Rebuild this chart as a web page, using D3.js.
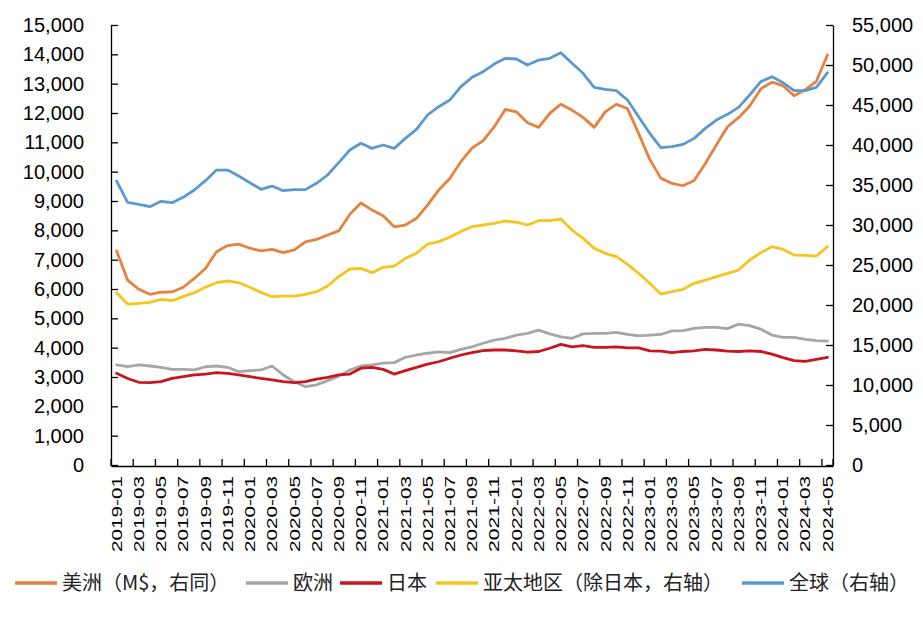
<!DOCTYPE html>
<html>
<head>
<meta charset="utf-8">
<script src="https://cdn.jsdelivr.net/npm/d3@7"></script>
<style>
  html, body { margin: 0; padding: 0; background: #fff; }
  svg { display: block; }
</style>
</head>
<body>
<svg id="chart" width="923" height="621"></svg>
<script>
// ---------- data ----------
const months = [
  "2019-01","2019-02","2019-03","2019-04","2019-05","2019-06","2019-07","2019-08","2019-09","2019-10","2019-11","2019-12",
  "2020-01","2020-02","2020-03","2020-04","2020-05","2020-06","2020-07","2020-08","2020-09","2020-10","2020-11","2020-12",
  "2021-01","2021-02","2021-03","2021-04","2021-05","2021-06","2021-07","2021-08","2021-09","2021-10","2021-11","2021-12",
  "2022-01","2022-02","2022-03","2022-04","2022-05","2022-06","2022-07","2022-08","2022-09","2022-10","2022-11","2022-12",
  "2023-01","2023-02","2023-03","2023-04","2023-05","2023-06","2023-07","2023-08","2023-09","2023-10","2023-11","2023-12",
  "2024-01","2024-02","2024-03","2024-04","2024-05"
];
const americas = [7300,6300,5990,5820,5890,5900,6060,6360,6700,7270,7480,7530,7390,7300,7350,7240,7330,7610,7690,7840,7980,8550,8930,8690,8500,8120,8180,8410,8860,9370,9770,10340,10800,11060,11530,12120,12040,11670,11510,11990,12300,12100,11850,11510,12040,12300,12150,11300,10420,9780,9600,9520,9700,10280,10910,11530,11840,12240,12820,13050,12930,12590,12790,13080,13980];
const europe = [3410,3350,3410,3375,3330,3260,3260,3240,3350,3375,3330,3180,3215,3240,3375,3070,2840,2670,2730,2875,3030,3240,3375,3410,3470,3490,3670,3750,3810,3860,3830,3940,4030,4150,4260,4320,4430,4490,4600,4470,4370,4320,4470,4490,4490,4520,4450,4400,4430,4450,4570,4580,4660,4690,4690,4650,4800,4750,4630,4430,4350,4350,4280,4240,4220];
const japan = [3125,2950,2820,2810,2840,2950,3010,3070,3100,3150,3125,3070,3010,2950,2900,2840,2810,2840,2930,2990,3070,3100,3300,3330,3260,3100,3215,3330,3440,3520,3640,3750,3830,3900,3920,3920,3890,3850,3870,3980,4110,4030,4070,4010,4010,4030,3990,3990,3890,3880,3830,3870,3890,3940,3920,3880,3870,3890,3870,3780,3660,3560,3530,3600,3670];
const asiaPacific = [21540,20120,20210,20330,20710,20540,21040,21540,22210,22790,23000,22790,22210,21580,21040,21120,21120,21330,21670,22370,23540,24500,24580,24040,24710,24870,25830,26460,27620,27920,28460,29200,29790,30000,30210,30500,30370,30000,30540,30540,30750,29370,28330,27080,26460,26040,25080,23960,22710,21370,21670,21960,22710,23120,23540,23960,24370,25620,26540,27290,26960,26250,26210,26120,27290];
const world = [35500,32830,32580,32290,32960,32790,33460,34370,35540,36870,36870,36120,35290,34460,34870,34290,34420,34420,35210,36250,37790,39370,40210,39580,40000,39580,40830,41960,43750,44790,45620,47290,48460,49170,50120,50830,50750,50000,50620,50830,51540,50210,48960,47210,46960,46790,45620,43540,41460,39670,39790,40080,40830,42080,43120,43830,44710,46250,47920,48540,47790,46790,46790,47210,49040];

const leftTicks = [0,1000,2000,3000,4000,5000,6000,7000,8000,9000,10000,11000,12000,13000,14000,15000];
const rightTicks = [0,5000,10000,15000,20000,25000,30000,35000,40000,45000,50000,55000];
const xTickLabels = months.filter((m, i) => i % 2 === 0);

const seriesNames = ["美洲（M$，右同）", "欧洲", "日本", "亚太地区（除日本，右轴）", "全球（右轴）"];
const seriesColors = ["#E5823F", "#A6A6A6", "#C8161D", "#F5C51F", "#5B99CE"];
const seriesValues = [americas, europe, japan, asiaPacific, world];
const seriesAxis = ["left", "left", "left", "right", "right"];

// ---------- layout ----------
const svg = d3.select("#chart");
const L = 111, R = 833, T = 25, B = 465;
const numFont = "'Liberation Sans', Arial, sans-serif";
const cjkFont = "'Noto Sans CJK SC', 'Noto Sans', sans-serif";

const x = d3.scaleBand().domain(months).range([L, R]).paddingInner(0).paddingOuter(0);
const cx = m => x(m) + x.bandwidth() / 2;
const yL = d3.scaleLinear().domain([0, 15000]).range([B, T]);
const yR = d3.scaleLinear().domain([0, 55000]).range([B, T]);

// Left axis
const gL = svg.append("g").attr("transform", `translate(${L},0)`)
  .call(d3.axisLeft(yL).tickValues(leftTicks).tickFormat(d3.format(",")).tickSize(-7).tickPadding(27).tickSizeOuter(0));
// Right axis
const gR = svg.append("g").attr("transform", `translate(${R},0)`)
  .call(d3.axisRight(yR).tickValues(rightTicks).tickFormat(d3.format(",")).tickSize(-7).tickPadding(19).tickSizeOuter(0));
[gL, gR].forEach(g => {
  g.select(".domain").attr("stroke", "#000").attr("stroke-width", 1.3);
  g.selectAll(".tick line").attr("stroke", "#000").attr("stroke-width", 1.3);
  g.selectAll(".tick text").attr("font-family", numFont).attr("font-size", 20).attr("fill", "#000");
});

// Bottom axis
const gX = svg.append("g").attr("transform", `translate(0,${B + 1})`)
  .call(d3.axisBottom(x).tickValues(xTickLabels).tickSize(0).tickPadding(0).tickSizeOuter(0));
gX.select(".domain").attr("stroke", "#000").attr("stroke-width", 1.3);
gX.selectAll(".tick line").remove();
// tick marks at category boundaries, every two months, pointing up
const boundaryIdx = d3.range(0, months.length + 1, 2).concat([months.length]);
gX.selectAll(".bt").data(Array.from(new Set(boundaryIdx))).enter().append("line")
  .attr("x1", i => L + i * x.step()).attr("x2", i => L + i * x.step())
  .attr("y1", 0).attr("y2", -7).attr("stroke", "#000").attr("stroke-width", 1.3);
gX.selectAll(".tick text")
  .attr("font-family", numFont)
  .attr("font-size", 14.5)
  .attr("fill", "#000")
  .attr("text-anchor", "end")
  .attr("transform", "rotate(-90)")
  .attr("x", -10)
  .attr("y", 0)
  .attr("dy", "0.36em")
  .attr("textLength", 76)
  .attr("lengthAdjust", "spacingAndGlyphs");

// Lines
const plot = svg.append("g");
seriesValues.forEach((vals, s) => {
  const yS = seriesAxis[s] === "left" ? yL : yR;
  const line = d3.line().x((d, i) => cx(months[i])).y(d => yS(d));
  plot.append("path").datum(vals)
    .attr("d", line)
    .attr("fill", "none")
    .attr("stroke", seriesColors[s])
    .attr("stroke-width", 2.8)
    .attr("stroke-linejoin", "round")
    .attr("stroke-linecap", "round");
});

// Legend
const legendX = [15, 246, 340, 436, 742];
const legendY = 583;
const lg = svg.append("g");
seriesNames.forEach((name, s) => {
  const g = lg.append("g").attr("transform", `translate(${legendX[s]},${legendY})`);
  g.append("line").attr("x1", 0).attr("x2", 42).attr("y1", 0).attr("y2", 0)
    .attr("stroke", seriesColors[s]).attr("stroke-width", 3.5);
  g.append("text").attr("x", 47).attr("y", 0).attr("dy", "0.36em")
    .attr("font-family", cjkFont).attr("font-size", 20).attr("fill", "#222")
    .text(name);
});
</script>
</body>
</html>
